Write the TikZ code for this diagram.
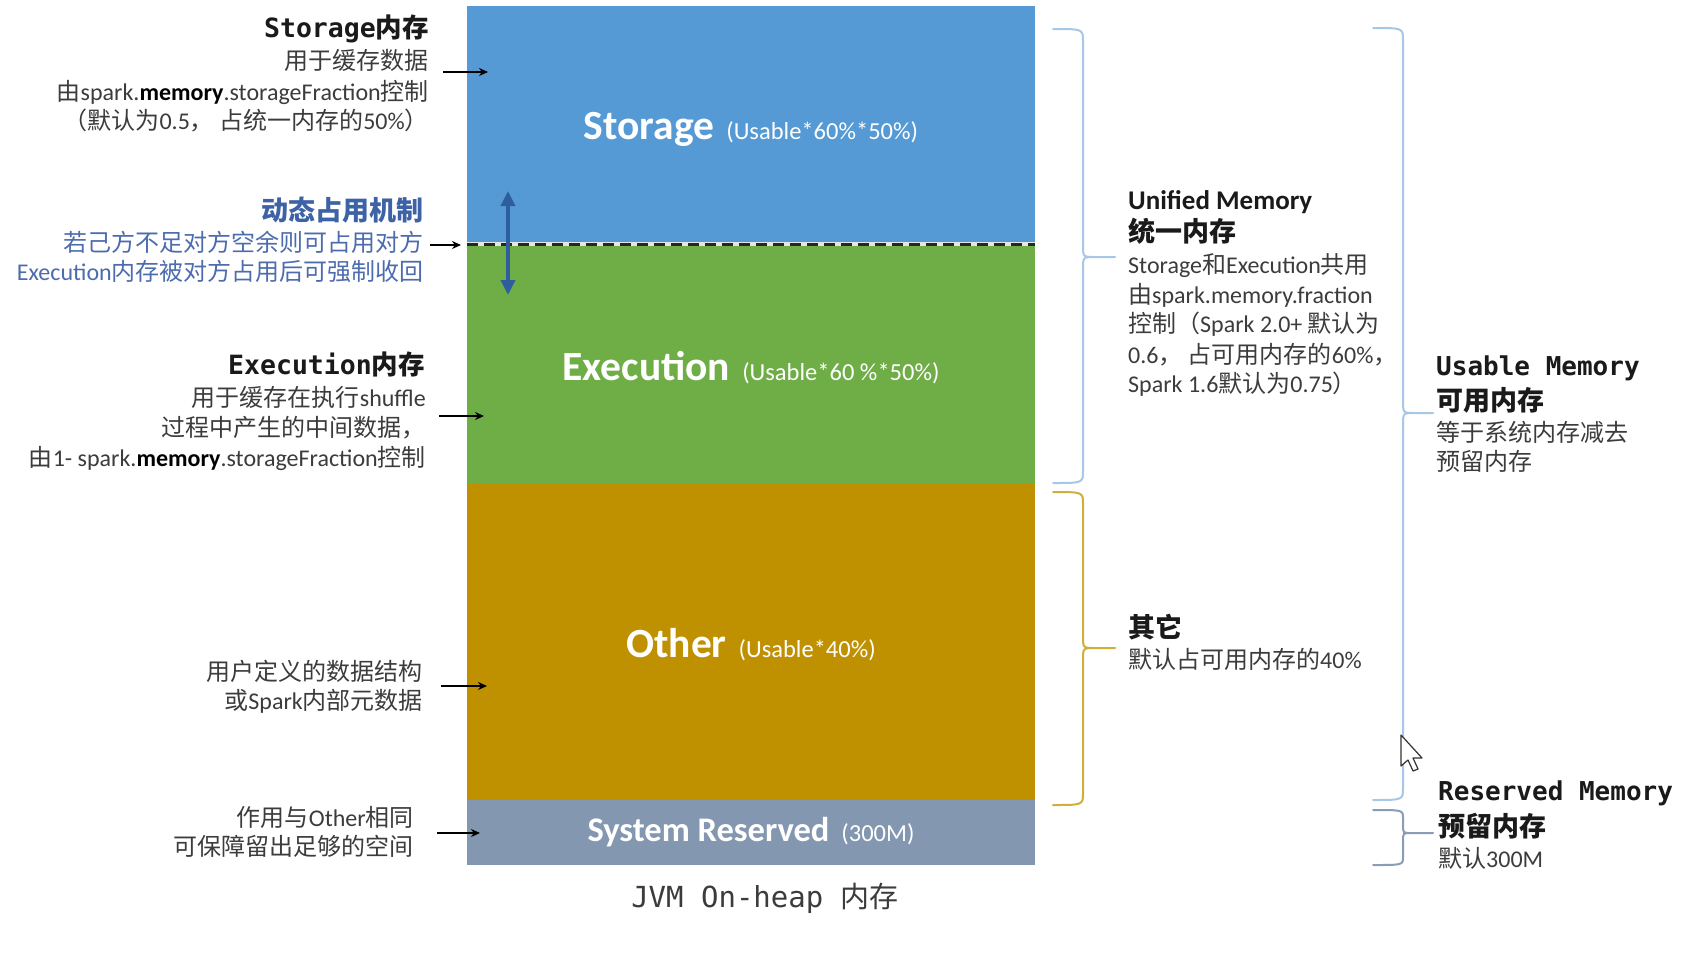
\documentclass[tikz,border=0pt]{standalone}
\usepackage{fontspec}
\setmainfont{Carlito}
\setmonofont{DejaVu Sans Mono}
\newfontfamily\zhf{Noto Sans CJK SC}
\usetikzlibrary{arrows.meta}
\definecolor{stblue}{HTML}{5599D5}
\definecolor{exgreen}{HTML}{6FAD46}
\definecolor{otgold}{HTML}{BF9000}
\definecolor{srgray}{HTML}{8497B0}
\definecolor{txtgray}{HTML}{3C3C3C}
\definecolor{headblk}{HTML}{1A1A1A}
\definecolor{dynhead}{HTML}{3E62A6}
\definecolor{dynbody}{HTML}{4C6CAE}
\definecolor{arrblue}{HTML}{2E5E9E}
\definecolor{brblue}{HTML}{A8C7E6}
\definecolor{brgold}{HTML}{CFAE3A}
\definecolor{brgray}{HTML}{8C9CB4}
\newcommand\zh[1]{{\zhf #1}}
\newcommand\mem{{\color{black}\bfseries memory}}
% #1 colour, #2 x end, #3 x spine, #4 x tip, #5 y top, #6 y tip, #7 y bottom, #8 radius
\newcommand\membrace[8]{%
  \draw[brace,draw=#1] (#2,#5) .. controls (#3,#5) .. ({#3},{#5+#8}) -- ({#3},{#6-#8})
    .. controls (#3,#6) .. ({#3+#8},#6) -- (#4,#6)
    ({#3+#8},#6) .. controls (#3,#6) .. ({#3},{#6+#8}) -- ({#3},{#7-#8})
    .. controls (#3,#7) .. (#2,#7);}
\newcommand\paren[1]{\hspace{12pt}{\mdseries\fontsize{24.5}{25}\selectfont #1}}
\tikzset{
  lt/.style={anchor=base east,inner sep=0pt,text=txtgray,font=\fontsize{24}{29}\selectfont},
  lh/.style={anchor=base east,inner sep=0pt,text=headblk,font=\fontsize{26.5}{30}\selectfont\bfseries},
  dh/.style={anchor=base east,inner sep=0pt,text=dynhead,font=\fontsize{27}{30}\selectfont\bfseries},
  dt/.style={anchor=base east,inner sep=0pt,text=dynbody,font=\fontsize{24}{29}\selectfont},
  rt/.style={anchor=base west,inner sep=0pt,text=txtgray,font=\fontsize{24}{29}\selectfont},
  rh/.style={anchor=base west,inner sep=0pt,text=headblk,font=\fontsize{27}{30}\selectfont\bfseries},
  rmh/.style={anchor=base west,inner sep=0pt,text=headblk,font=\fontsize{26}{30}\selectfont\ttfamily\bfseries},
  boxlbl/.style={inner sep=0pt,text=white,font=\bfseries},
  ptr/.style={line width=2.5pt,-{Stealth[length=9pt,width=8pt]}},
  dblarr/.style={draw=arrblue,line width=3.5pt,{Triangle[width=14pt,length=15pt]}-{Triangle[width=14pt,length=15pt]}},
  brace/.style={line width=2pt,line cap=round}
}
\begin{document}
\begin{tikzpicture}[x=1pt,y=-1pt]
\useasboundingbox (0,0) rectangle (1696,970);
\fill[white] (0,0) rectangle (1696,970);
% memory blocks
\fill[stblue] (467,6) rectangle (1035,244);
\fill[exgreen] (467,244) rectangle (1035,483);
\fill[otgold] (467,483) rectangle (1035,800);
\fill[srgray] (467,800) rectangle (1035,865);
\coordinate (dL) at (467,244);
\coordinate (dR) at (1035,244);
\draw[line width=4pt,draw=black!10] (dL) -- (dR);
\draw[line width=3pt,dash pattern=on 11pt off 6pt,draw=black!85] (dL) -- (dR);
% block labels
\node[boxlbl] (lst) at (751,129) {{\fontsize{41.5}{42}\selectfont Storage}\paren{(Usable*60\%*50\%)}};
\node[boxlbl] (lex) at (751,368) {{\fontsize{41.5}{42}\selectfont Execution}\paren{(Usable*60 \%*50\%)}};
\node[boxlbl] (lot) at (751,645) {{\fontsize{41.5}{42}\selectfont Other}\paren{(Usable*40\%)}};
\node[boxlbl] (lsr) at (751,832) {{\fontsize{34.5}{35}\selectfont System Reserved}\paren{(300M)}};
\node[inner sep=0pt,text=txtgray,font=\fontsize{29}{30}\selectfont\ttfamily] (cap) at (765,898) {JVM On-heap \zh{内存}};
% dynamic arrow
\coordinate (da1) at (508,191);
\coordinate (da2) at (508,295);
\draw[dblarr] (da1) -- (da2);
% left annotations
\node[lh] (sth) at (429,37) {{\ttfamily Storage}\zh{内存}};
\node[lt] (st1) at (429,69) {\zh{用于缓存数据}};
\node[lt] (st2) at (429,100) {\zh{由}spark.\mem.storageFraction\zh{控制}};
\node[lt] (st3) at (429,129) {\zh{（默认为}0.5\zh{， 占统一内存的}50\%\zh{）}};
\node[dh] (dyh) at (424,220) {\zh{动态占用机制}};
\node[dt] (dy1) at (424,251) {\zh{若己方不足对方空余则可占用对方}};
\node[dt] (dy2) at (424,280) {Execution\zh{内存被对方占用后可强制收回}};
\node[lh] (exh) at (425,374) {{\ttfamily Execution}\zh{内存}};
\node[lt] (ex1) at (426,406) {\zh{用于缓存在执行}shuffle};
\node[lt] (ex2) at (426,436) {\zh{过程中产生的中间数据，}};
\node[lt] (ex3) at (426,466) {\zh{由}1- spark.\mem.storageFraction\zh{控制}};
\node[lt] (ot1) at (423,680) {\zh{用户定义的数据结构}};
\node[lt] (ot2) at (423,709) {\zh{或}Spark\zh{内部元数据}};
\node[lt] (sr1) at (414,826) {\zh{作用与}Other\zh{相同}};
\node[lt] (sr2) at (414,855) {\zh{可保障留出足够的空间}};
% left pointers
\coordinate (pS1) at (443,72);  \coordinate (pS2) at (488,72);
\coordinate (pD1) at (430,245); \coordinate (pD2) at (461,245);
\coordinate (pE1) at (439,416); \coordinate (pE2) at (484,416);
\coordinate (pO1) at (441,686); \coordinate (pO2) at (487,686);
\coordinate (pR1) at (437,833); \coordinate (pR2) at (480,833);
\draw[ptr] (pS1) -- (pS2);
\draw[ptr] (pD1) -- (pD2);
\draw[ptr] (pE1) -- (pE2);
\draw[ptr] (pO1) -- (pO2);
\draw[ptr] (pR1) -- (pR2);
% braces
\membrace{brblue}{1053}{1083}{1115}{29}{257}{483}{12}
\membrace{brgold}{1053}{1083}{1115}{492}{648}{805}{12}
\membrace{brblue}{1373}{1403}{1433}{28}{413}{800}{12}
\membrace{brgray}{1373}{1403}{1433}{810}{833}{865}{8}
% right annotations
\node[rh] (umh) at (1128,209) {Unified Memory};
\node[rh] (umz) at (1128,241) {\zh{统一内存}};
\node[rt] (um1) at (1128,273) {Storage\zh{和}Execution\zh{共用}};
\node[rt] (um2) at (1128,303) {\zh{由}spark.memory.fraction};
\node[rt] (um3) at (1128,332) {\zh{控制（}Spark 2.0+ \zh{默认为}};
\node[rt] (um4) at (1128,363) {0.6\zh{， 占可用内存的}60\%\zh{，}};
\node[rt] (um5) at (1128,392) {Spark 1.6\zh{默认为}0.75\zh{）}};
\node[rh] (oth) at (1128,637) {\zh{其它}};
\node[rt] (ot3) at (1128,668) {\zh{默认占可用内存的}40\%};
\node[rmh] (ush) at (1436,375) {Usable Memory};
\node[rh] (usz) at (1436,410) {\zh{可用内存}};
\node[rt] (us1) at (1436,441) {\zh{等于系统内存减去}};
\node[rt] (us2) at (1436,470) {\zh{预留内存}};
\node[rmh] (rsh) at (1438,800) {Reserved Memory};
\node[rh] (rsz) at (1438,836) {\zh{预留内存}};
\node[rt] (rs1) at (1438,867) {\zh{默认}300M};
% mouse pointer
\filldraw[fill=white,draw=black!80,line width=1.2pt,line join=round] (1401,735) -- ++(0,31) -- ++(7,-6) -- ++(5,11) -- ++(5,-2) -- ++(-5,-11) -- ++(9,0) -- cycle;
\end{tikzpicture}
\end{document}
